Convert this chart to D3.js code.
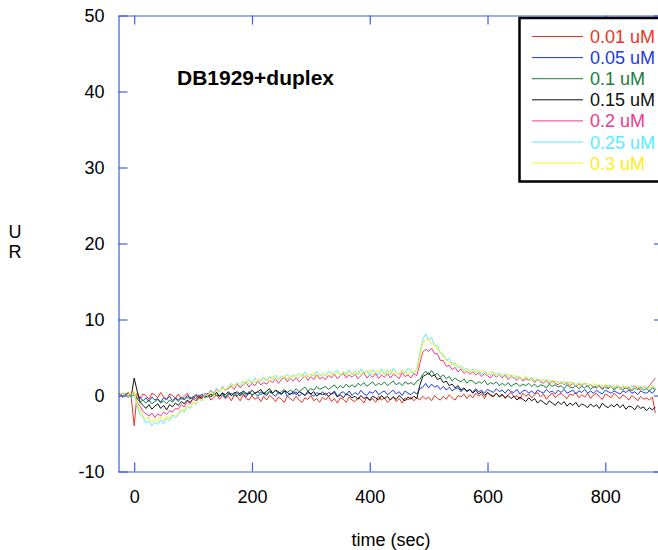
<!DOCTYPE html>
<html>
<head>
<meta charset="utf-8">
<script src="https://cdn.jsdelivr.net/npm/d3@7"></script>
<style>
  html, body { margin: 0; padding: 0; background: #fff; }
  svg { display: block; font-family: "Liberation Sans", Arial, Helvetica, sans-serif; }
</style>
</head>
<body>
<svg id="chart" width="658" height="550"></svg>
<script>
// ---------- DATA ----------
const title = "DB1929+duplex";
const xLabel = "time (sec)";
const yLabel = "UR";
const xTicks = [0, 200, 400, 600, 800];
const yTicks = [-10, 0, 10, 20, 30, 40, 50];
const seriesNames = ["0.01 uM", "0.05 uM", "0.1 uM", "0.15 uM", "0.2 uM", "0.25 uM", "0.3 uM"];
const seriesColors = ["#ee3322", "#1a3ae6", "#168038", "#111111", "#f0388c", "#55eeff", "#ffee11"];

const times = [
-25,-20,-15,-10,-5,0,5,10,15,20,
25,30,35,40,45,50,55,60,65,70,
75,80,85,90,95,100,105,110,115,120,
125,130,135,140,145,150,155,160,165,170,
175,180,185,190,195,200,205,210,215,220,
225,230,235,240,245,250,255,260,265,270,
275,280,285,290,295,300,305,310,315,320,
325,330,335,340,345,350,355,360,365,370,
375,380,385,390,395,400,405,410,415,420,
425,430,435,440,445,450,455,460,465,470,
475,480,485,490,495,500,505,510,515,520,
525,530,535,540,545,550,555,560,565,570,
575,580,585,590,595,600,605,610,615,620,
625,630,635,640,645,650,655,660,665,670,
675,680,685,690,695,700,705,710,715,720,
725,730,735,740,745,750,755,760,765,770,
775,780,785,790,795,800,805,810,815,820,
825,830,835,840,845,850,855,860,865,870,
875,880,885];

const s001 = [
0.3,-0.2,0.1,0.4,-0.3,-4.0,0.3,-0.4,0.2,0.0,
-0.5,0.3,0.1,-0.3,0.4,-0.2,-0.6,0.2,0.0,-0.4,
0.2,-0.5,-0.1,0.3,-0.4,-0.2,0.1,-0.6,0.0,-0.3,
0.2,-0.6,-0.3,0.1,-0.5,0.0,-0.4,-0.1,-0.7,0.1,
-0.2,-0.7,0.1,-0.4,-0.6,0.0,-0.5,-0.2,-0.8,-0.1,
-0.6,0.0,-0.3,-0.8,-0.2,-0.5,-0.9,-0.1,-0.4,-0.7,
-0.1,-0.6,-0.9,-0.3,-0.5,0.0,-0.7,-0.4,-0.9,-0.2,
-0.6,-0.1,-0.8,-0.4,-1.0,-0.3,-0.5,-0.9,-0.2,-0.6,
-0.8,-0.3,-0.5,-1.0,-0.2,-0.7,-0.4,-0.9,-0.1,-0.6,
-0.3,-0.9,-0.5,-0.1,-0.8,-0.4,-1.0,-0.3,-0.6,-0.2,
-0.7,-0.3,-0.6,-0.1,-0.5,-0.2,-0.7,0.0,-0.4,-0.6,
-0.1,-0.5,0.1,-0.3,-0.6,0.0,-0.2,0.2,-0.4,0.1,
-0.3,0.3,-0.1,0.2,-0.4,0.4,0.0,-0.2,0.3,-0.1,
0.2,-0.4,0.1,0.4,-0.2,0.0,-0.5,0.3,-0.1,0.2,
-0.3,0.1,0.4,-0.2,0.2,-0.5,0.0,0.3,-0.3,0.1,
0.3,-0.1,-0.4,0.2,0.0,0.4,-0.3,0.1,-0.2,0.3,
-0.4,0.1,0.3,-0.2,-0.5,0.2,0.0,-0.3,0.3,-0.1,
-0.4,0.1,-0.2,-0.6,0.0,-0.3,-0.7,-0.1,-0.5,-0.3,
-0.6,-0.2,-2.3];

const s005 = [
0.2,-0.2,0.1,0.3,-0.1,0.2,-0.4,-0.2,-0.7,-0.3,
-0.8,-0.2,-0.6,-0.4,-0.9,-0.3,-0.5,-0.1,-0.7,-0.3,
-0.6,-0.2,-0.5,0.0,-0.3,-0.4,0.1,-0.2,0.2,-0.3,
0.3,-0.2,0.1,0.4,-0.1,0.2,-0.3,0.3,0.0,0.4,
-0.1,0.4,0.2,-0.2,0.5,0.1,0.3,-0.1,0.5,0.2,
0.0,0.5,0.2,-0.1,0.4,0.1,0.6,-0.1,0.3,0.2,
0.5,-0.1,0.3,0.0,0.6,0.2,-0.1,0.4,0.1,0.5,
0.0,0.4,0.2,0.6,-0.1,0.3,0.5,0.1,0.6,0.0,
0.4,0.1,0.7,0.2,0.0,0.5,0.3,0.7,0.1,0.4,
0.6,0.1,0.4,0.7,0.2,0.5,0.0,0.6,0.3,0.1,
0.5,0.2,0.9,1.1,1.6,1.0,1.5,1.1,1.3,0.8,
1.2,0.7,1.1,0.6,0.9,1.0,0.5,0.9,0.6,0.8,
0.4,0.9,0.5,0.7,0.3,0.8,0.6,0.4,0.9,0.5,
0.7,0.3,0.8,0.5,0.4,0.8,0.2,0.6,0.7,0.3,
0.6,0.2,0.7,0.5,0.3,0.8,0.4,0.6,0.2,0.7,
0.4,0.8,0.3,0.5,0.7,0.2,0.6,0.4,0.8,0.3,
0.6,0.3,0.7,0.4,0.2,0.7,0.5,0.3,0.6,0.4,
0.2,0.6,0.4,0.7,0.3,0.5,0.1,0.6,0.4,0.3,
0.6,0.3,0.8];

const s01 = [
0.2,-0.1,0.3,0.0,-0.2,0.1,-0.4,-0.9,-0.6,-1.0,
-0.6,-1.1,-0.8,-0.5,-1.0,-0.7,-1.1,-0.6,-0.9,-0.4,
-0.8,-0.3,-0.6,-0.2,-0.5,-0.1,-0.4,0.1,-0.3,0.0,
0.2,-0.2,0.3,0.0,-0.1,0.4,-0.2,0.1,0.3,-0.1,
0.3,-0.1,0.4,0.1,0.5,0.0,0.3,0.5,0.1,0.4,
0.2,0.6,0.3,0.7,0.2,0.5,0.8,0.4,0.7,0.5,
0.9,0.5,0.8,1.1,0.6,0.9,0.7,1.2,0.8,1.0,
1.2,0.8,1.1,1.4,0.9,1.3,1.0,1.5,1.1,1.4,
1.1,1.6,1.3,1.7,1.2,1.5,1.8,1.3,1.6,1.4,
1.8,1.3,1.6,1.9,1.4,1.7,1.3,1.8,1.5,1.7,
1.4,1.9,2.1,2.8,3.2,2.7,3.3,2.7,2.9,2.4,
2.7,2.2,2.5,1.9,2.3,2.0,1.8,2.2,1.6,2.0,
1.9,1.5,1.8,1.6,2.0,1.4,1.7,1.5,1.8,1.3,
1.6,1.3,1.7,1.2,1.5,1.6,1.2,1.5,1.3,1.6,
1.2,1.5,1.1,1.4,1.3,1.0,1.5,1.2,1.4,1.1,
1.3,0.9,1.4,1.1,1.0,1.3,0.9,1.2,1.0,1.3,
0.8,1.2,1.0,1.3,0.8,1.1,0.9,1.2,0.7,1.1,
1.0,0.7,1.1,0.8,0.6,1.0,0.8,1.1,0.7,0.9,
0.6,1.0,0.8];

const s015 = [
0.2,-0.2,0.1,0.3,-0.1,2.3,0.6,-0.9,-1.3,-1.7,
-1.2,-1.8,-1.4,-1.1,-1.7,-1.3,-1.9,-1.2,-1.5,-1.0,
-1.3,-0.8,-1.1,-0.6,-0.9,-0.4,-0.7,-0.2,-0.4,0.0,
-0.2,0.2,0.0,0.4,-0.1,0.3,0.1,0.5,0.0,0.3,
0.5,0.1,0.6,0.3,0.2,0.7,0.3,0.5,0.8,0.2,
0.6,0.9,0.3,0.7,0.5,0.2,0.6,0.4,0.1,0.5,
0.1,0.5,0.3,0.0,0.4,0.2,0.5,-0.1,0.3,0.1,
0.3,-0.1,0.2,0.4,-0.2,0.1,-0.3,0.2,0.0,-0.3,
-0.1,-0.5,0.0,-0.4,-0.2,-0.6,-0.1,-0.3,-0.6,0.0,
-0.4,-0.1,-0.6,-0.2,-0.5,0.0,-0.4,-0.7,-0.2,-0.5,
-0.1,-0.4,1.3,2.5,2.7,3.0,2.5,2.7,2.1,2.3,
1.7,1.9,1.3,1.5,1.0,1.3,0.7,1.0,0.5,0.8,
0.3,0.7,0.2,0.5,0.0,0.4,0.1,-0.1,0.3,-0.2,
0.1,-0.3,0.0,-0.4,-0.1,-0.6,-0.2,-0.5,-0.8,-0.3,
-0.7,-0.4,-1.0,-0.6,-0.9,-1.2,-0.7,-1.0,-1.3,-0.8,
-1.2,-0.8,-1.4,-1.0,-1.3,-0.9,-1.5,-1.1,-1.3,-1.6,
-1.1,-1.5,-1.2,-1.7,-1.0,-1.4,-1.6,-1.2,-1.5,-1.1,
-1.6,-1.2,-1.8,-1.4,-1.5,-1.9,-1.3,-1.7,-1.5,-2.0,
-1.6,-1.9,-1.5];

const s02 = [
-0.2,0.3,0.1,-0.3,0.2,0.4,-0.9,-1.4,-2.1,-2.4,
-2.7,-2.3,-2.9,-2.4,-2.7,-2.2,-2.5,-2.0,-2.2,-1.7,
-1.8,-1.2,-1.5,-0.8,-1.1,-0.4,-0.7,0.0,-0.3,0.3,
0.1,0.7,0.3,0.9,0.5,1.1,0.7,0.9,1.3,0.8,
1.5,1.0,1.4,1.7,1.1,1.6,1.3,1.9,1.4,1.7,
1.5,2.0,1.7,2.2,1.6,2.1,2.4,1.8,2.3,1.9,
2.4,1.8,2.2,2.6,2.0,2.5,2.1,2.7,2.2,2.4,
2.1,2.7,2.3,2.8,2.2,2.6,2.9,2.3,2.7,2.4,
2.8,2.2,2.6,3.0,2.3,2.7,2.4,2.9,2.2,2.7,
2.4,2.9,2.3,2.8,2.6,2.2,3.0,2.5,2.7,2.3,
2.9,2.6,4.2,5.7,6.1,5.8,6.2,5.5,5.5,4.6,
4.6,3.8,4.0,3.4,3.7,3.1,3.5,2.9,3.2,2.8,
3.1,2.7,3.0,2.5,2.9,2.6,2.3,2.8,2.4,2.7,
2.3,2.7,2.1,2.5,2.3,2.0,2.4,1.9,2.2,2.0,
2.2,1.7,2.1,1.8,1.6,2.0,1.5,1.9,1.6,1.4,
1.8,1.4,1.7,1.3,1.6,1.2,1.5,1.3,1.6,1.2,
1.4,1.0,1.3,1.2,0.9,1.4,1.0,1.2,0.9,1.3,
0.8,1.2,0.9,1.1,0.7,1.3,0.9,0.7,1.2,0.9,
1.3,1.8,2.3];

const s025 = [
0.2,-0.2,0.3,0.0,-0.3,0.3,-1.4,-2.5,-2.9,-3.6,
-3.3,-4.0,-3.5,-3.8,-3.2,-3.7,-3.0,-3.3,-2.6,-2.9,
-2.5,-1.9,-2.2,-1.4,-1.7,-0.9,-1.2,-0.4,-0.7,0.2,
-0.1,0.6,0.2,0.9,0.4,1.2,0.7,1.0,1.6,1.2,
1.7,1.2,1.9,1.5,2.1,1.6,2.3,1.7,2.0,2.4,
1.9,2.5,2.1,2.7,2.0,2.6,2.3,2.8,2.2,2.7,
2.3,2.9,2.5,3.1,2.4,2.8,2.6,3.2,2.5,2.9,
2.6,3.2,2.7,3.0,3.3,2.6,3.1,2.8,3.4,2.7,
3.2,2.7,3.5,2.9,3.3,2.6,3.4,3.0,2.7,3.5,
2.8,3.3,2.7,3.6,3.0,2.8,3.4,2.9,3.6,3.1,
2.9,3.5,5.5,7.3,8.1,7.3,7.6,6.6,6.6,5.5,
5.4,4.6,4.9,4.0,4.3,3.6,3.9,3.3,3.6,3.1,
3.5,3.0,3.3,2.8,3.2,2.9,2.6,3.1,2.7,3.0,
2.4,2.9,2.5,2.7,2.2,2.6,2.3,2.1,2.5,2.0,
2.4,1.9,2.2,1.8,2.1,1.7,2.0,1.6,1.9,1.8,
1.5,1.9,1.4,1.8,1.6,1.3,1.7,1.4,1.6,1.2,
1.5,1.2,1.4,1.1,1.3,1.0,1.4,1.2,0.9,1.3,
1.1,0.8,1.2,0.9,1.3,0.8,1.0,1.2,0.7,1.1,
0.9,1.2,1.0];

const s03 = [
0.1,0.4,-0.2,0.3,0.0,0.6,-1.1,-2.0,-2.7,-3.1,
-2.9,-3.5,-3.0,-3.4,-2.8,-3.3,-2.7,-3.0,-2.5,-2.7,
-2.3,-1.8,-2.0,-1.3,-1.6,-0.9,-1.0,-0.5,-0.6,0.0,
0.1,0.4,0.0,0.7,0.5,1.0,0.8,1.3,1.0,1.5,
1.3,1.7,1.4,2.0,1.5,1.9,1.7,2.2,1.8,2.1,
2.3,1.9,2.6,2.0,2.4,2.2,2.7,2.1,2.6,2.3,
2.7,2.3,2.9,2.4,2.8,2.5,3.0,2.4,2.9,2.6,
2.9,2.5,3.1,2.6,3.0,2.7,3.2,2.6,3.1,2.9,
2.8,3.3,2.7,3.2,2.9,3.4,2.7,3.1,3.3,2.8,
3.2,2.8,3.4,2.9,3.1,2.7,3.3,3.0,2.8,3.4,
3.0,3.5,5.0,6.9,7.3,7.4,6.8,6.8,6.0,5.8,
5.0,4.8,4.3,4.4,3.9,4.0,3.5,3.7,3.2,3.4,
3.1,3.4,2.9,3.3,3.0,2.8,3.2,2.7,3.0,2.6,
2.8,2.5,2.9,2.4,2.7,2.3,2.5,2.1,2.4,2.3,
2.0,2.3,1.9,2.2,1.8,2.1,1.7,2.0,1.9,1.6,
1.8,1.5,1.9,1.4,1.7,1.6,1.3,1.7,1.4,1.6,
1.3,1.6,1.2,1.5,1.1,1.4,1.3,1.0,1.3,1.2,
0.9,1.3,1.0,1.2,0.8,1.1,1.3,0.9,1.2,0.8,
1.1,1.3,0.9];

const seriesValues = [s001, s005, s01, s015, s02, s025, s03];

// ---------- LAYOUT ----------
const svg = d3.select("#chart");
const axisColor = "#3a5cf0";
const fontSize = 18;
const fmt = d => String(d);

const x = d3.scaleLinear().domain([-27.5, 898]).range([118, 663]);
const y = d3.scaleLinear().domain([-10, 50]).range([471.5, 15.5]);

svg.append("defs").append("clipPath").attr("id", "plotclip")
  .append("rect").attr("x", 118).attr("y", 15.5).attr("width", 545).attr("height", 456);

const line = d3.line().x((d, i) => x(times[i])).y(d => y(d));
const plot = svg.append("g").attr("clip-path", "url(#plotclip)");
seriesValues.forEach((vals, k) => {
  plot.append("path")
    .datum(vals)
    .attr("d", line)
    .attr("fill", "none")
    .attr("stroke", seriesColors[k])
    .attr("stroke-width", 1)
    .attr("stroke-linejoin", "round");
});

function styleAxis(g) {
  g.selectAll("path.domain").attr("stroke", axisColor).attr("stroke-width", 1.2);
  g.selectAll(".tick line").attr("stroke", axisColor).attr("stroke-width", 1.2);
  g.selectAll("text").attr("fill", "#000").attr("font-size", fontSize)
    .attr("font-family", '"Liberation Sans", Arial, sans-serif');
}

const gBottom = svg.append("g").attr("transform", "translate(0,471.5)")
  .call(d3.axisBottom(x).tickValues(xTicks).tickSizeInner(-9).tickSizeOuter(0).tickPadding(19).tickFormat(fmt));
styleAxis(gBottom);

const gTop = svg.append("g").attr("transform", "translate(0,15.5)")
  .call(d3.axisTop(x).tickValues(xTicks).tickSizeInner(-9).tickSizeOuter(0).tickFormat(""));
styleAxis(gTop);

const gLeft = svg.append("g").attr("transform", "translate(118.5,0)")
  .call(d3.axisLeft(y).tickValues(yTicks).tickSizeInner(-9).tickSizeOuter(0).tickPadding(14).tickFormat(fmt));
styleAxis(gLeft);

const gRight = svg.append("g").attr("transform", "translate(663,0)")
  .call(d3.axisRight(y).tickValues(yTicks).tickSizeInner(-9).tickSizeOuter(0).tickFormat(""));
styleAxis(gRight);

svg.append("text").attr("x", 391).attr("y", 546).attr("text-anchor", "middle")
  .attr("font-size", fontSize).attr("fill", "#000").text(xLabel);

const yl = svg.append("text").attr("x", 15).attr("y", 238).attr("text-anchor", "middle")
  .attr("font-size", fontSize).attr("fill", "#000");
yLabel.split("").forEach((ch, i) => {
  yl.append("tspan").attr("x", 15).attr("dy", i === 0 ? 0 : 20).text(ch);
});

svg.append("text").attr("x", 177).attr("y", 85).attr("font-size", 21).attr("font-weight", "bold")
  .attr("fill", "#000").text(title);

const lg = svg.append("g");
lg.append("rect").attr("x", 519.5).attr("y", 18).attr("width", 160).attr("height", 163.5)
  .attr("fill", "#fff").attr("stroke", "#000").attr("stroke-width", 2.5);
seriesNames.forEach((name, k) => {
  const cy = 36.5 + k * 21.1;
  lg.append("line").attr("x1", 532).attr("x2", 583).attr("y1", cy).attr("y2", cy)
    .attr("stroke", seriesColors[k]).attr("stroke-width", 1);
  lg.append("text").attr("x", 590).attr("y", cy + 6.5).attr("font-size", fontSize)
    .attr("fill", seriesColors[k]).text(name);
});
</script>
</body>
</html>
